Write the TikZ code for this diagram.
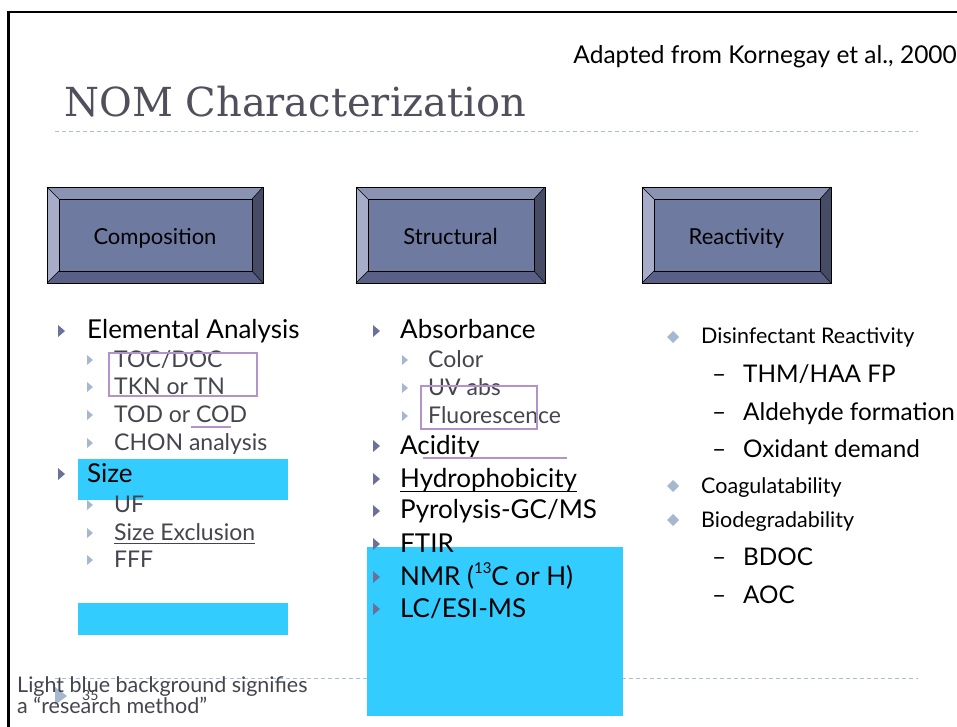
\documentclass[tikz,border=0pt]{standalone}
\usepackage{fontspec}
\usetikzlibrary{calc}
\setmainfont{Lato}
\newfontfamily\titlefont{DejaVu Serif}
\definecolor{btntop}{HTML}{8B93B3}
\definecolor{btnleft}{HTML}{A7ADC9}
\definecolor{btnright}{HTML}{464B66}
\definecolor{btnbottom}{HTML}{5A6085}
\definecolor{btnface}{HTML}{6F7AA1}
\definecolor{resblue}{HTML}{33CCFF}
\definecolor{markpurple}{HTML}{B393CC}
\definecolor{subgrey}{HTML}{45454F}
\definecolor{tri1}{HTML}{6B7199}
\definecolor{tri2}{HTML}{A5B8CF}
\definecolor{dashcol}{HTML}{A8C0D8}
\definecolor{titlegrey}{HTML}{50505C}
\tikzset{
  lone/.style={anchor=base west,inner sep=0pt,font=\fontsize{26}{29}\selectfont,text=black},
  ltwo/.style={anchor=base west,inner sep=0pt,font=\fontsize{23}{26}\selectfont,text=subgrey},
  rone/.style={anchor=base west,inner sep=0pt,font=\fontsize{21.5}{24}\selectfont,text=black},
  rtwo/.style={anchor=base west,inner sep=0pt,font=\fontsize{24.3}{27}\selectfont,text=black},
  btntext/.style={anchor=base,inner sep=0pt,font=\fontsize{22}{25}\selectfont,text=black},
  purplemark/.style={draw=markpurple,line width=2.2pt},
  dashline/.style={draw=dashcol,line width=0.8pt,dash pattern=on 4pt off 3pt},
}
% level-1 triangle at (x,y): x left, y centre
\newcommand\trione[2]{\fill[tri1] (#1,#2-6) -- (#1+7,#2) -- (#1,#2+6) -- cycle;}
\newcommand\tritwo[2]{\fill[tri2] (#1,#2-5) -- (#1+6,#2) -- (#1,#2+5) -- cycle;}
\newcommand\diam[2]{\fill[tri2] (#1,#2-6) -- (#1+6,#2) -- (#1,#2+6) -- (#1-6,#2) -- cycle;}
\newcommand\bevbtn[6]{%
  \fill[btnface] (#2,#3) rectangle (#4,#5);
  \fill[btntop] (#2,#3) -- (#4,#3) -- (#4-11,#3+12) -- (#2+12,#3+12) -- cycle;
  \fill[btnleft] (#2,#3) -- (#2+12,#3+12) -- (#2+12,#5-12) -- (#2,#5) -- cycle;
  \fill[btnright] (#4,#3) -- (#4-11,#3+12) -- (#4-11,#5-12) -- (#4,#5) -- cycle;
  \fill[btnbottom] (#2,#5) -- (#2+12,#5-12) -- (#4-11,#5-12) -- (#4,#5) -- cycle;
  \draw[black,line width=0.5pt] (#2,#3) -- (#2+12,#3+12) (#4,#3) -- (#4-11,#3+12)
     (#2,#5) -- (#2+12,#5-12) (#4,#5) -- (#4-11,#5-12);
  \draw[black,line width=1pt] (#2+12,#3+12) rectangle (#4-11,#5-12);
  \draw[black,line width=1pt] (#2,#3) rectangle (#4,#5);
  \node[btntext] (#1) at ({(#2+#4)/2},244) {#6};
}
\begin{document}
\begin{tikzpicture}[x=1pt,y=-1pt]
\useasboundingbox (0,0) rectangle (957,726);
\fill[white] (0,0) rectangle (957,726);
% frame
\draw[black,line width=2.6pt] (8.5,727) -- (8.5,12) -- (958,12);
% header
\node[anchor=base east,inner sep=0pt,font=\fontsize{24.5}{27}\selectfont] (src) at (957,63) {Adapted from Kornegay et al., 2000};
\node[anchor=base west,inner sep=0pt,font=\titlefont\fontsize{40}{44}\selectfont,text=titlegrey] (title) at (64,116) {NOM Characterization};
\coordinate (dl1) at (55,131); \coordinate (dl2) at (918,131);
\draw[dashline] (dl1) -- (dl2);
\coordinate (dl3) at (55,678); \coordinate (dl4) at (918,678);
\draw[dashline] (dl3) -- (dl4);
% buttons
\bevbtn{comp}{47}{187}{263}{283}{Composition}
\bevbtn{struc}{356}{187}{545}{283}{Structural}
\bevbtn{react}{642}{187}{831}{283}{Reactivity}
% research-method backgrounds
\fill[resblue] (78,459) rectangle (288,500);
\fill[resblue] (78,603) rectangle (288,635);
\fill[resblue] (367,547) rectangle (623,716);
% left column
\trione{58}{331}
\node[lone] (ea) at (87,338) {Elemental Analysis};
\tritwo{87}{360}
\node[ltwo] (toc) at (114,367) {TOC/DOC};
\tritwo{87}{387}
\node[ltwo] (tkn) at (114,394) {TKN or TN};
\tritwo{87}{415}
\node[ltwo] (tod) at (114,422) {TOD or COD};
\tritwo{87}{443}
\node[ltwo] (chon) at (114,450) {CHON analysis};
\trione{58}{474}
\node[lone] (size) at (87,482) {Size};
\tritwo{87}{505}
\node[ltwo] (uf) at (114,512) {UF};
\tritwo{87}{533}
\node[ltwo] (sec) at (114,540) {Size Exclusion};
\draw[subgrey,line width=1pt] ($(sec.base west)+(0,3)$) -- ($(sec.base east)+(0,3)$);
\tritwo{87}{560}
\node[ltwo] (fff) at (114,567) {FFF};
% middle column
\trione{373}{331}
\node[lone] (abs) at (400,338) {Absorbance};
\tritwo{402}{360}
\node[ltwo] (color) at (428,367) {Color};
\tritwo{402}{388}
\node[ltwo] (uv) at (428,395) {UV abs};
\tritwo{402}{416}
\node[ltwo] (fluo) at (428,423) {Fluorescence};
\trione{373}{446}
\node[lone] (acid) at (400,454) {Acidity};
\trione{373}{479}
\node[lone] (hydro) at (400,487) {Hydrophobicity};
\draw[black,line width=1pt] ($(hydro.base west)+(0,4)$) -- ($(hydro.base east)+(0,4)$);
\trione{373}{511}
\node[lone] (pyro) at (400,518) {Pyrolysis-GC/MS};
\trione{373}{544}
\node[lone] (ftir) at (400,552) {FTIR};
\trione{373}{577}
\node[lone] (nmr) at (400,585) {NMR (\raisebox{0.45em}{\fontsize{15}{17}\selectfont 13}C or H)};
\trione{373}{609}
\node[lone] (lc) at (400,617) {LC/ESI-MS};
% right column
\diam{673}{337}
\node[rone] (dis) at (701,343) {Disinfectant Reactivity};
\node[rtwo] (d1) at (712,382) {--};
\node[rtwo] (thm) at (743,382) {THM/HAA FP};
\node[rtwo] (d2) at (712,420) {--};
\node[rtwo] (ald) at (743,420) {Aldehyde formation};
\node[rtwo] (d3) at (712,457) {--};
\node[rtwo] (oxi) at (743,457) {Oxidant demand};
\diam{673}{486}
\node[rone] (coag) at (701,493) {Coagulatability};
\diam{673}{520}
\node[rone] (bio) at (701,527) {Biodegradability};
\node[rtwo] (d4) at (712,565) {--};
\node[rtwo] (bdoc) at (743,565) {BDOC};
\node[rtwo] (d5) at (712,603) {--};
\node[rtwo] (aoc) at (743,603) {AOC};
% purple marks
\draw[purplemark] (109,353) rectangle (257,396);
\draw[purplemark] (191,427) -- (231,427);
\draw[purplemark] (421,386) rectangle (537,429);
\draw[purplemark] (423,458) -- (567,458);
% footer
\fill[tri2] (55,687) -- (67,696) -- (55,705) -- cycle;
\node[anchor=base west,inner sep=0pt,font=\fontsize{14}{16}\selectfont,text=subgrey] (pg) at (82,700) {35};
\node[anchor=base west,inner sep=0pt,font=\fontsize{21.5}{24}\selectfont,text=subgrey] (note1) at (17,692) {Light blue background signifies};
\node[anchor=base west,inner sep=0pt,font=\fontsize{21.5}{24}\selectfont,text=subgrey] (note2) at (17,713) {a “research method”};
\end{tikzpicture}
\end{document}
